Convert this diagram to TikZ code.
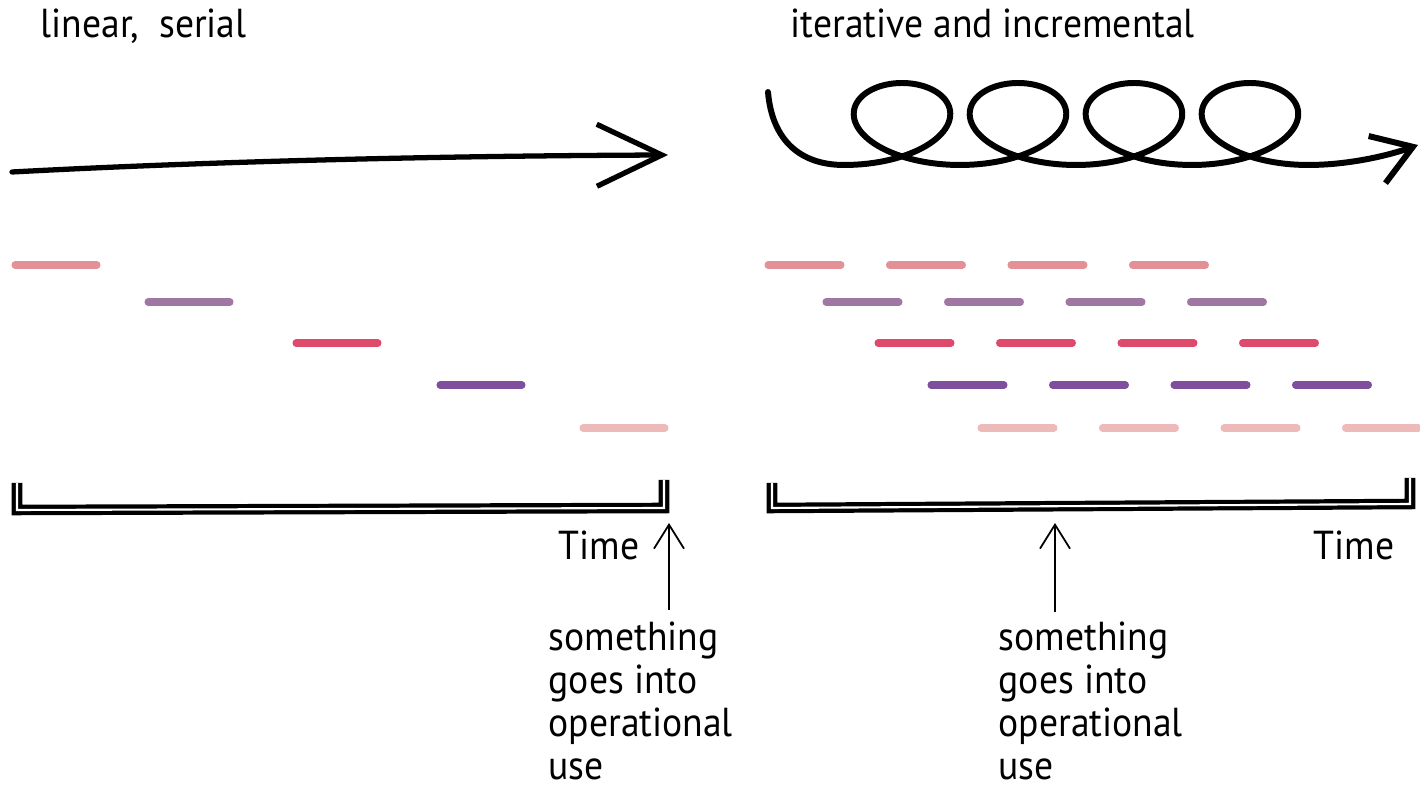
\documentclass[tikz,border=0pt]{standalone}
\usepackage{fontspec}
\setmainfont{PT Sans}[FakeStretch=0.93]
\usetikzlibrary{arrows.meta}
\definecolor{dashA}{HTML}{E39097}
\definecolor{dashB}{HTML}{A077A2}
\definecolor{dashC}{HTML}{DE4A6C}
\definecolor{dashD}{HTML}{7F4E9D}
\definecolor{dashE}{HTML}{EEB9B9}
\begin{document}
\begin{tikzpicture}[x=0.01cm,y=-0.01cm,
    ink/.style={line width=1.5pt,line cap=round,line join=round},
    bar/.style={line width=2pt,line cap=round},
    frame/.style={double=white,double distance=0.6pt,line width=1.2pt,line join=miter},
    label/.style={font=\fontsize{11.5}{12}\selectfont,inner sep=0pt,anchor=base west},
    note/.style={align=left,font=\fontsize{11.5}{12.3}\selectfont,inner sep=0pt,anchor=base west},
    pin/.style={-{Straight Barb[length=2.4mm,width=3mm]},line width=0.5pt}]
  \useasboundingbox (0,0) rectangle (1420,792);

  \node[label] (linear) at (40,38) {linear,~ serial};
  \node[label] (iter) at (790,38) {iterative and incremental};

  % straight arrow
  \coordinate (lstart) at (12,172);
  \coordinate (ltip) at (668,155);
  \draw[ink,-{Straight Barb[length=6.5mm,width=6.2mm]}] (lstart) .. controls (200,162) and (420,156) .. (ltip);

  % loops
  \coordinate (sstart) at (768,92);
  \coordinate (stip) at (1418,145);
  \draw[ink,line width=1.7pt,-{Straight Barb[length=3.8mm,width=5mm]}] (sstart) .. controls (772,140) and (800,165) .. (844,165)
    -- plot[domain=-3.1416:21.9911,samples=400] ({902+18.46*\x-75*sin(\x r)},{124-41*cos(\x r)})
    .. controls (1350,165) and (1390,155) .. (stip);

  \foreach \x/\y/\col in {15/265/dashA,148/302/dashB,296/343/dashC,440/385/dashD,583/428/dashE}
    \draw[bar,\col] (\x,\y) -- +(82,0);
  \foreach \x/\y/\col in {768/265/dashA,826/302/dashB,878/343/dashC,931/385/dashD,981/428/dashE}
    \foreach \k in {0,...,3}
      \draw[bar,\col] ({\x+121.5*\k},\y) -- +(73,0);

  \draw[frame] (17,483) -- (17,510) -- (664,508) -- (664,480);
  \draw[frame] (772,483) -- (772,508) -- (1410,504) -- (1410,478);

  \node[label] (ltime) at (558,560) {Time};
  \node[label] (rtime) at (1313,560) {Time};

  \node[note] (lnote) at (548,780) {something\\goes into\\operational\\use};
  \node[note] (rnote) at (998,780) {something\\goes into\\operational\\use};

  \coordinate (lfoot) at (669,610);
  \coordinate (lpoint) at (669,523);
  \coordinate (rfoot) at (1055,612);
  \coordinate (rpoint) at (1055,523);
  \draw[pin] (lfoot) -- (lpoint);
  \draw[pin] (rfoot) -- (rpoint);
\end{tikzpicture}
\end{document}
